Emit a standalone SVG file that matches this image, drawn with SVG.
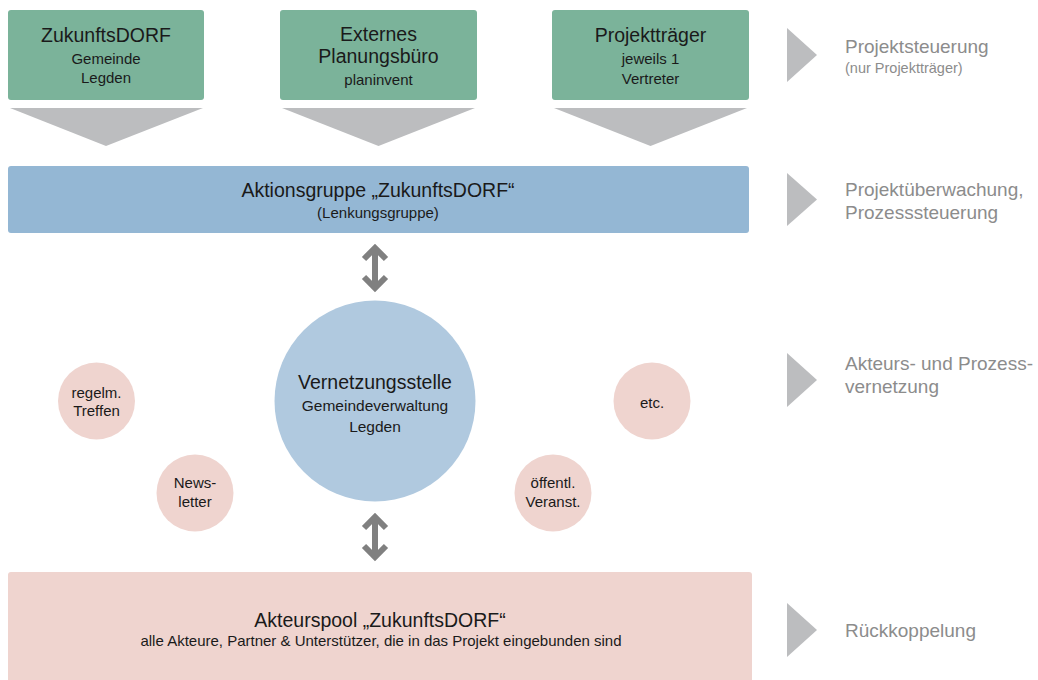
<svg xmlns="http://www.w3.org/2000/svg" width="1038" height="680" viewBox="0 0 1038 680">
<style>
text{font-family:"Liberation Sans",Arial,sans-serif;text-anchor:middle;fill:#1a1a1a}
.big{font-size:19.5px}
.small{font-size:15px}
.side{font-size:19px;fill:#8c8c8c;text-anchor:start}
.sidesm{font-size:14.5px;fill:#8c8c8c;text-anchor:start}
.green{fill:#7bb39a}
.chev{fill:#bcbdbf}
.tri{fill:#bcbdbf}
.pink{fill:#efd4cf}
.arr{fill:none;stroke:#808080;stroke-width:6}
</style>
<rect width="1038" height="680" fill="#fff"/>
<g id="box-zukunftsdorf">
<rect class="green" x="8" y="10" width="196" height="90" rx="3"/>
<text class="big" x="106" y="42">ZukunftsDORF</text>
<text class="small" x="106" y="64">Gemeinde<tspan x="106" y="83">Legden</tspan></text>
</g>
<g id="box-planungsbuero">
<rect class="green" x="280" y="10" width="197" height="90" rx="3"/>
<text class="big" x="378.5" y="41">Externes<tspan x="378.5" y="63">Planungsbüro</tspan></text>
<text class="small" x="378.5" y="85">planinvent</text>
</g>
<g id="box-projekttraeger">
<rect class="green" x="552" y="10" width="197" height="90" rx="3"/>
<text class="big" x="650.5" y="42">Projektträger</text>
<text class="small" x="650.5" y="64">jeweils 1<tspan x="650.5" y="84">Vertreter</tspan></text>
</g>
<g id="connectors">
<polygon class="chev" points="10,108 203,108 106,146"/>
<polygon class="chev" points="282,108 475,108 378.5,146"/>
<polygon class="chev" points="554,108 747,108 650.5,146"/>
<path class="arr" d="M375,250 V287 M364,259 L375,248 L386,259 M364,277 L375,288 L386,277"/>
<path class="arr" d="M375,519 V556 M364,528 L375,517 L386,528 M364,546 L375,557 L386,546"/>
</g>
<g id="aktionsgruppe">
<rect x="8" y="166" width="741" height="67" rx="3" fill="#94b7d4"/>
<text class="big" x="378" y="197">Aktionsgruppe „ZukunftsDORF“</text>
<text class="small" x="378" y="218">(Lenkungsgruppe)</text>
</g>
<g id="vernetzungsstelle">
<circle cx="375" cy="401" r="100.5" fill="#b0c9df"/>
<text class="big" x="375" y="389">Vernetzungsstelle</text>
<text class="small" x="375" y="411" style="font-size:15.5px">Gemeindeverwaltung<tspan x="375" y="432">Legden</tspan></text>
</g>
<g id="treffen">
<circle class="pink" cx="96.5" cy="401" r="38.5"/>
<text class="small" x="96.5" y="398">regelm.<tspan x="96.5" y="416">Treffen</tspan></text>
</g>
<g id="newsletter">
<circle class="pink" cx="195" cy="493" r="38.5"/>
<text class="small" x="195" y="488">News-<tspan x="195" y="507">letter</tspan></text>
</g>
<g id="etc">
<circle class="pink" cx="652" cy="401" r="38.5"/>
<text class="small" x="652" y="408">etc.</text>
</g>
<g id="veranstaltungen">
<circle class="pink" cx="553" cy="493" r="38.5"/>
<text class="small" x="553" y="488">öffentl.<tspan x="553" y="507">Veranst.</tspan></text>
</g>
<g id="akteurspool">
<rect class="pink" x="8" y="572" width="744" height="112" rx="3"/>
<text class="big" x="380" y="627">Akteurspool „ZukunftsDORF“</text>
<text class="small" x="381" y="646">alle Akteure, Partner &amp; Unterstützer, die in das Projekt eingebunden sind</text>
</g>
<g id="legend">
<polygon class="tri" points="787,28 817,55 787,82"/>
<text class="side" x="845" y="53">Projektsteuerung</text>
<text class="sidesm" x="845" y="73">(nur Projektträger)</text>
<polygon class="tri" points="787,173 817,199.5 787,226"/>
<text class="side" x="845" y="196">Projektüberwachung,<tspan x="845" y="219">Prozesssteuerung</tspan></text>
<polygon class="tri" points="787,353 817,380 787,407"/>
<text class="side" x="845" y="370">Akteurs- und Prozess-<tspan x="845" y="393">vernetzung</tspan></text>
<polygon class="tri" points="787,603 817,630 787,657"/>
<text class="side" x="845" y="637">Rückkoppelung</text>
</g>
</svg>
